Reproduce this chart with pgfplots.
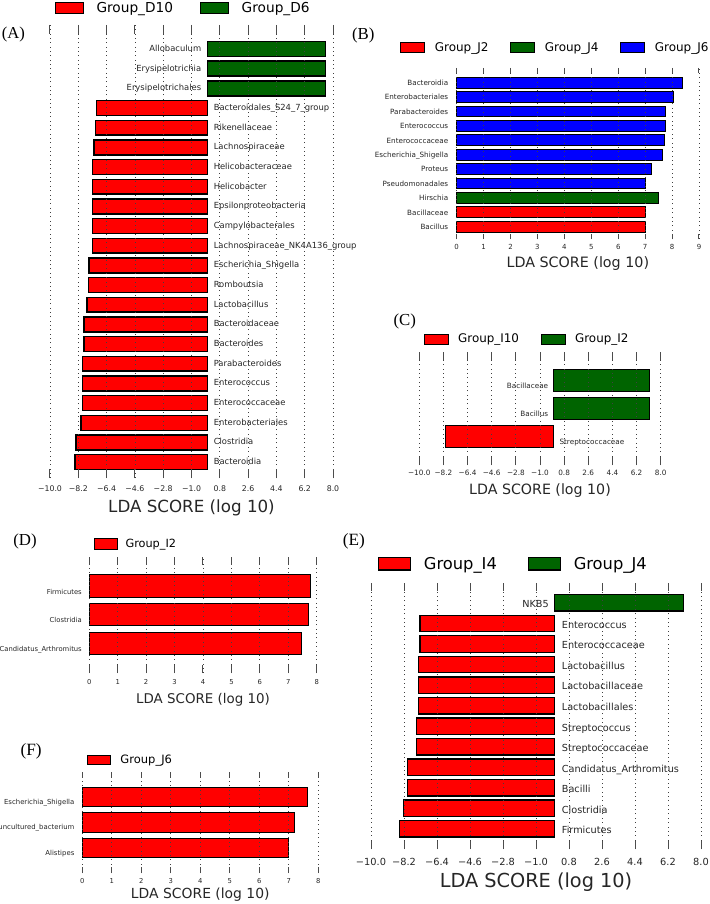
\documentclass[border=0pt]{standalone}
\usepackage{pgfplots}
\pgfplotsset{compat=1.18}
\usepackage{fontspec}
\setmainfont{DejaVu Sans}
\newfontfamily\serifpanel{Liberation Serif}
\definecolor{gD}{RGB}{0,100,0}
\newcommand\fs[1]{\fontsize{#1}{#1}\selectfont}
\pgfplotsset{
  lefse/.style={
    scale only axis, axis on top, clip=false,
    axis line style={draw=none},
    ytick=\empty,
    xmajorgrids,
    major grid style={draw=black!75, line width=0.75pt, dash pattern=on 0.75pt off 3.6pt},
    tick style={draw=black!70, line width=1pt},
    xticklabel style={anchor=center, text=black!85},
    legend style={draw=none, fill=none, inner sep=0pt, outer sep=0pt, anchor=west,
      nodes={inner sep=0pt}, cells={anchor=west}},
    every axis x label/.style={anchor=center, text=black!85},
    xlabel={LDA SCORE (log 10)},
  },
  barR/.style={xbar, bar shift=0pt, fill=red, draw=black, forget plot},
  barG/.style={xbar, bar shift=0pt, fill=gD, draw=black, forget plot},
  barB/.style={xbar, bar shift=0pt, fill=blue, draw=black, forget plot},
}
\tikzset{
  lA/.style={anchor=base west, xshift=3pt, yshift=-2.5pt, font=\fs{8.4}, text=black!85},
  rA/.style={anchor=base east, xshift=-2.5pt, yshift=-2.5pt, font=\fs{8.4}, text=black!85},
  lB/.style={anchor=base east, xshift=-5pt, yshift=-2.8pt, font=\fs{7.2}, text=black!85},
  lC/.style={anchor=base west, xshift=2.6pt, yshift=-7.4pt, font=\fs{7.25}, text=black!85},
  rC/.style={anchor=base east, xshift=-1.7pt, yshift=-7.4pt, font=\fs{7.25}, text=black!85},
  lD/.style={anchor=base east, xshift=-4pt, yshift=-8pt, font=\fs{6.8}, text=black!85},
  lE/.style={anchor=base west, xshift=4pt, yshift=-4.9pt, font=\fs{9.7}, text=black!85},
  rE/.style={anchor=base east, xshift=-2pt, yshift=-4.9pt, font=\fs{9.7}, text=black!85},
  lF/.style={anchor=base east, xshift=-4.4pt, yshift=-7.4pt, font=\fs{6.9}, text=black!85},
}
\begin{document}
\begin{tikzpicture}
\path[use as bounding box] (0,0) rectangle (709pt,-904pt);

% ---------------- Panel A
\node[font=\serifpanel\fs{16.6}] at (13.3pt,-35pt) {(A)};
\begin{axis}[lefse, at={(50pt,-478pt)}, anchor=south west,
  width=283pt, height=453pt, xmin=-10, xmax=8, ymin=-0.81, ymax=22.22,
  xtick={-10,-8.2,-6.4,-4.6,-2.8,-1.0,0.8,2.6,4.4,6.2,8.0},
  xticklabels={−10.0,−8.2,−6.4,−4.6,−2.8,−1.0,0.8,2.6,4.4,6.2,8.0},
  xticklabel style={font=\fs{7.8}, yshift=-10.3pt},
  major tick length=9pt,
  x label style={at={(axis description cs:0.5,-0.0669)}, font=\fs{16.7}},
  legend columns=2,
  legend style={at={(axis description cs:0.01767,1.03753)}, font=\fs{13.7},
    /tikz/every even column/.append style={column sep=27.2pt}},
  legend image code/.code={\draw[line width=1pt,#1] (0pt,-5.3pt) rectangle (28pt,5.3pt); \path[draw=none,fill=none] (0pt,0pt) -- (41pt,0pt);},
]
\addplot[barR, bar width=0.76, line width=1.4pt] coordinates {
 (-8.40,0) (-8.34,1) (-8.04,2) (-7.95,3) (-7.95,4) (-7.93,5) (-7.85,6) (-7.85,7)
 (-7.64,8) (-7.57,9) (-7.51,10) (-7.30,11) (-7.30,12) (-7.30,13) (-7.30,14)
 (-7.30,15) (-7.20,16) (-7.09,17) (-7.04,18)};
\addplot[barG, bar width=0.76, line width=1.4pt] coordinates {(7.51,19) (7.51,20) (7.51,21)};
\addlegendimage{fill=red, draw=black}
\addlegendentry{Group\_D10}
\addlegendimage{fill=gD, draw=black}
\addlegendentry{Group\_D6}
\node[lA] at (axis cs:0,0) {Bacteroidia};
\node[lA] at (axis cs:0,1) {Clostridia};
\node[lA] at (axis cs:0,2) {Enterobacteriales};
\node[lA] at (axis cs:0,3) {Enterococcaceae};
\node[lA] at (axis cs:0,4) {Enterococcus};
\node[lA] at (axis cs:0,5) {Parabacteroides};
\node[lA] at (axis cs:0,6) {Bacteroides};
\node[lA] at (axis cs:0,7) {Bacteroidaceae};
\node[lA] at (axis cs:0,8) {Lactobacillus};
\node[lA] at (axis cs:0,9) {Romboutsia};
\node[lA] at (axis cs:0,10) {Escherichia\_Shigella};
\node[lA] at (axis cs:0,11) {Lachnospiraceae\_NK4A136\_group};
\node[lA] at (axis cs:0,12) {Campylobacterales};
\node[lA] at (axis cs:0,13) {Epsilonproteobacteria};
\node[lA] at (axis cs:0,14) {Helicobacter};
\node[lA] at (axis cs:0,15) {Helicobacteraceae};
\node[lA] at (axis cs:0,16) {Lachnospiraceae};
\node[lA] at (axis cs:0,17) {Rikenellaceae};
\node[lA] at (axis cs:0,18) {Bacteroidales\_S24\_7\_group};
\node[rA] at (axis cs:0,19) {Erysipelotrichales};
\node[rA] at (axis cs:0,20) {Erysipelotrichia};
\node[rA] at (axis cs:0,21) {Allobaculum};
\end{axis}

% ---------------- Panel B
\node[font=\serifpanel\fs{16.8}] at (363.3pt,-35pt) {(B)};
\begin{axis}[lefse, at={(456.7pt,-239pt)}, anchor=south west,
  width=242.3pt, height=171pt, xmin=0, xmax=9, ymin=-0.85, ymax=11.02,
  xtick={0,1,2,3,4,5,6,7,8,9},
  xticklabels={0,1,2,3,4,5,6,7,8,9},
  xticklabel style={font=\fs{7}, yshift=-8pt},
  major tick length=5pt,
  x label style={at={(axis description cs:0.5,-0.1421)}, font=\fs{14.3}},
  legend columns=3,
  legend style={at={(axis description cs:-0.234,1.1199)}, font=\fs{12},
    /tikz/every even column/.append style={column sep=21.5pt}},
  legend image code/.code={\draw[line width=1pt,#1] (0pt,-4.8pt) rectangle (24.3pt,4.8pt); \path[draw=none,fill=none] (0pt,0pt) -- (34.3pt,0pt);},
]
\addplot[barR, bar width=0.75, line width=1pt] coordinates {(7.00,0) (7.01,1)};
\addplot[barG, bar width=0.75, line width=1pt] coordinates {(7.50,2)};
\addplot[barB, bar width=0.75, line width=1pt] coordinates {
 (7.03,3) (7.22,4) (7.66,5) (7.71,6) (7.75,7) (7.77,8) (8.06,9) (8.39,10)};
\addlegendimage{fill=red, draw=black}
\addlegendentry{Group\_J2}
\addlegendimage{fill=gD, draw=black}
\addlegendentry{Group\_J4}
\addlegendimage{fill=blue, draw=black}
\addlegendentry{Group\_J6}
\node[lB] at (axis cs:0,0) {Bacillus};
\node[lB] at (axis cs:0,1) {Bacillaceae};
\node[lB] at (axis cs:0,2) {Hirschia};
\node[lB] at (axis cs:0,3) {Pseudomonadales};
\node[lB] at (axis cs:0,4) {Proteus};
\node[lB] at (axis cs:0,5) {Escherichia\_Shigella};
\node[lB] at (axis cs:0,6) {Enterococcaceae};
\node[lB] at (axis cs:0,7) {Enterococcus};
\node[lB] at (axis cs:0,8) {Parabacteroides};
\node[lB] at (axis cs:0,9) {Enterobacteriales};
\node[lB] at (axis cs:0,10) {Bacteroidia};
\end{axis}

% ---------------- Panel C
\node[font=\serifpanel\fs{16.8}] at (404.7pt,-321pt) {(C)};
\begin{axis}[lefse, at={(419.3pt,-465pt)}, anchor=south west,
  width=241.4pt, height=113pt, xmin=-10, xmax=8, ymin=-1.01, ymax=3.025,
  xtick={-10,-8.2,-6.4,-4.6,-2.8,-1.0,0.8,2.6,4.4,6.2,8.0},
  xticklabels={−10.0,−8.2,−6.4,−4.6,−2.8,−1.0,0.8,2.6,4.4,6.2,8.0},
  xticklabel style={font=\fs{7.3}, yshift=-7.7pt},
  major tick length=8pt,
  x label style={at={(axis description cs:0.5,-0.2274)}, font=\fs{14.2}},
  legend columns=2,
  legend style={at={(axis description cs:0.0207,1.115)}, font=\fs{11.9},
    /tikz/every even column/.append style={column sep=22.2pt}},
  legend image code/.code={\draw[line width=1pt,#1] (0pt,-5pt) rectangle (23.4pt,5pt); \path[draw=none,fill=none] (0pt,0pt) -- (33.4pt,0pt);},
]
\addplot[barR, bar width=0.78, line width=1.1pt] coordinates {(-8.06,0)};
\addplot[barG, bar width=0.78, line width=1.1pt] coordinates {(7.15,1) (7.15,2)};
\addlegendimage{fill=red, draw=black}
\addlegendentry{Group\_I10}
\addlegendimage{fill=gD, draw=black}
\addlegendentry{Group\_I2}
\node[lC] at (axis cs:0,0) {Streptococcaceae};
\node[rC] at (axis cs:0,1) {Bacillus};
\node[rC] at (axis cs:0,2) {Bacillaceae};
\end{axis}

% ---------------- Panel D
\node[font=\serifpanel\fs{16.8}] at (25pt,-541.7pt) {(D)};
\begin{axis}[lefse, at={(89.3pt,-673pt)}, anchor=south west,
  width=227.4pt, height=116pt, xmin=0, xmax=8, ymin=-1.03, ymax=3.01,
  xtick={0,1,2,3,4,5,6,7,8},
  xticklabels={0,1,2,3,4,5,6,7,8},
  xticklabel style={font=\fs{6.8}, yshift=-9.3pt},
  major tick length=8pt,
  x label style={at={(axis description cs:0.5,-0.2267)}, font=\fs{13.4}},
  legend columns=1,
  legend style={at={(axis description cs:0.022,1.1147)}, font=\fs{11.3}},
  legend image code/.code={\draw[line width=1pt,#1] (0pt,-5.3pt) rectangle (22.4pt,5.3pt); \path[draw=none,fill=none] (0pt,0pt) -- (30.7pt,0pt);},
]
\addplot[barR, bar width=0.78, line width=1.1pt] coordinates {(7.48,0) (7.71,1) (7.79,2)};
\addlegendimage{fill=red, draw=black}
\addlegendentry{Group\_I2}
\node[lD] at (axis cs:0,0) {Candidatus\_Arthromitus};
\node[lD] at (axis cs:0,1) {Clostridia};
\node[lD] at (axis cs:0,2) {Firmicutes};
\end{axis}

% ---------------- Panel E
\node[font=\serifpanel\fs{17.2}] at (353.8pt,-541.7pt) {(E)};
\begin{axis}[lefse, at={(371pt,-849pt)}, anchor=south west,
  width=330pt, height=266pt, xmin=-10, xmax=8, ymin=-0.98, ymax=11.97,
  xtick={-10,-8.2,-6.4,-4.6,-2.8,-1.0,0.8,2.6,4.4,6.2,8.0},
  xticklabels={−10.0,−8.2,−6.4,−4.6,−2.8,−1.0,0.8,2.6,4.4,6.2,8.0},
  xticklabel style={font=\fs{9.8}, yshift=-12.7pt},
  major tick length=8pt,
  x label style={at={(axis description cs:0.5,-0.1229)}, font=\fs{19.3}},
  legend columns=2,
  legend style={at={(axis description cs:0.0203,1.0722)}, font=\fs{16.3},
    /tikz/every even column/.append style={column sep=30.7pt}},
  legend image code/.code={\draw[line width=1.2pt,#1] (0pt,-6.1pt) rectangle (32.3pt,6.1pt); \path[draw=none,fill=none] (0pt,0pt) -- (45.6pt,0pt);},
]
\addplot[barR, bar width=0.8, line width=1.4pt] coordinates {
 (-8.46,0) (-8.24,1) (-8.02,2) (-8.02,3) (-7.53,4) (-7.51,5) (-7.42,6)
 (-7.40,7) (-7.40,8) (-7.33,9) (-7.33,10)};
\addplot[barG, bar width=0.8, line width=1.4pt] coordinates {(7.04,11)};
\addlegendimage{fill=red, draw=black}
\addlegendentry{Group\_I4}
\addlegendimage{fill=gD, draw=black}
\addlegendentry{Group\_J4}
\node[lE] at (axis cs:0,0) {Firmicutes};
\node[lE] at (axis cs:0,1) {Clostridia};
\node[lE] at (axis cs:0,2) {Bacilli};
\node[lE] at (axis cs:0,3) {Candidatus\_Arthromitus};
\node[lE] at (axis cs:0,4) {Streptococcaceae};
\node[lE] at (axis cs:0,5) {Streptococcus};
\node[lE] at (axis cs:0,6) {Lactobacillales};
\node[lE] at (axis cs:0,7) {Lactobacillaceae};
\node[lE] at (axis cs:0,8) {Lactobacillus};
\node[lE] at (axis cs:0,9) {Enterococcaceae};
\node[lE] at (axis cs:0,10) {Enterococcus};
\node[rE] at (axis cs:0,11) {NKB5};
\end{axis}

% ---------------- Panel F
\node[font=\serifpanel\fs{17.2}] at (31.2pt,-751.7pt) {(F)};
\begin{axis}[lefse, at={(82.3pt,-873pt)}, anchor=south west,
  width=236pt, height=101pt, xmin=0, xmax=8, ymin=-1.0, ymax=3.0,
  xtick={0,1,2,3,4,5,6,7,8},
  xticklabels={0,1,2,3,4,5,6,7,8},
  xticklabel style={font=\fs{6.8}, yshift=-7.7pt},
  major tick length=6pt,
  x label style={at={(axis description cs:0.5,-0.2178)}, font=\fs{13.9}},
  legend columns=1,
  legend style={at={(axis description cs:0.0186,1.1188)}, font=\fs{11.5}},
  legend image code/.code={\draw[line width=1pt,#1] (0pt,-4.3pt) rectangle (23.3pt,4.3pt); \path[draw=none,fill=none] (0pt,0pt) -- (33.3pt,0pt);},
]
\addplot[barR, bar width=0.77, line width=1pt] coordinates {(7.00,0) (7.18,1) (7.63,2)};
\addlegendimage{fill=red, draw=black}
\addlegendentry{Group\_J6}
\node[lF] at (axis cs:0,0) {Alistipes};
\node[lF] at (axis cs:0,1) {uncultured\_bacterium};
\node[lF] at (axis cs:0,2) {Escherichia\_Shigella};
\end{axis}
\end{tikzpicture}
\end{document}
